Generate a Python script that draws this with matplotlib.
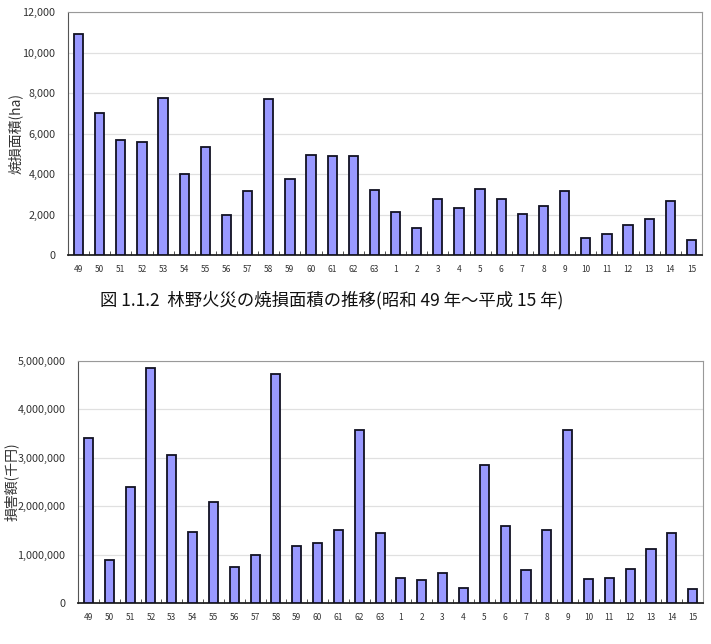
import numpy as np
import matplotlib
matplotlib.use('Agg')
import matplotlib.pyplot as plt
from matplotlib.ticker import FuncFormatter, MultipleLocator

plt.rcParams['font.family'] = ['Noto Sans CJK JP', 'DejaVu Sans']

years = ['49', '50', '51', '52', '53', '54', '55', '56', '57', '58', '59', '60', '61', '62', '63',
         '1', '2', '3', '4', '5', '6', '7', '8', '9', '10', '11', '12', '13', '14', '15']
# 焼損面積 (ha)
area = [10930, 6990, 5670, 5560, 7730, 3980, 5310, 1970, 3160, 7680, 3730, 4930, 4900, 4900, 3190,
        2140, 1350, 2750, 2330, 3270, 2790, 2040, 2430, 3140, 820, 1040, 1480, 1790, 2650, 760]
# 損害額 (千円)
damage = [3400000, 880000, 2390000, 4850000, 3050000, 1470000, 2080000, 740000, 990000, 4740000,
          1180000, 1230000, 1510000, 3570000, 1440000, 520000, 470000, 630000, 320000, 2860000,
          1590000, 675000, 1515000, 3570000, 490000, 520000, 710000, 1120000, 1450000, 290000]

caption = '図 1.1.2  林野火災の焼損面積の推移(昭和 49 年～平成 15 年)'

fig = plt.figure(figsize=(7.11, 6.44), dpi=100)
W, H = 711, 644

def style_axes(ax, values, ymax, step, ylabel, label_x):
    x = np.arange(len(years))
    ax.bar(x, values, width=0.44, color='#9999ff', edgecolor='#111122', linewidth=1.3, zorder=3)
    ax.set_xlim(-0.5, len(years) - 0.5)
    ax.set_ylim(0, ymax)
    ax.yaxis.set_major_locator(MultipleLocator(step))
    ax.yaxis.set_major_formatter(FuncFormatter(lambda v, p: f'{int(v):,}'))
    ax.grid(axis='y', color='#e0e0e0', linewidth=0.9, zorder=0)
    ax.set_xticks(x)
    ax.set_xticklabels(years, fontsize=6, color='#333333')
    ax.set_xticks(np.arange(-0.5, len(years)), minor=True)
    ax.tick_params(axis='x', which='major', length=0, pad=7)
    ax.tick_params(axis='x', which='minor', length=3, direction='in', color='#333333')
    ax.tick_params(axis='y', length=0, labelsize=7.8, labelcolor='#333333', pad=9)
    for s in ['top', 'right']:
        ax.spines[s].set_color('#999999')
    ax.spines['left'].set_color('#555555')
    ax.spines['bottom'].set_color('#222222')
    ax.spines['bottom'].set_linewidth(1.3)
    ax.set_ylabel(ylabel, fontsize=10, color='#333333')
    ax.yaxis.set_label_coords(label_x, 0.5)

ax1 = fig.add_axes([68 / W, 1 - 255 / H, (702 - 68) / W, (255 - 12) / H])
style_axes(ax1, area, 12000, 2000, '焼損面積(ha)', (23 - 68) / 634)

ax2 = fig.add_axes([78 / W, 1 - 603 / H, (703 - 78) / W, (603 - 361) / H])
style_axes(ax2, damage, 5000000, 1000000, '損害額(千円)', (19 - 78) / 625)

fig.text(332 / W, 1 - 300 / H, caption, ha='center', va='center', fontsize=12.5, color='#111111')

fig.savefig('out.png', dpi=100)
